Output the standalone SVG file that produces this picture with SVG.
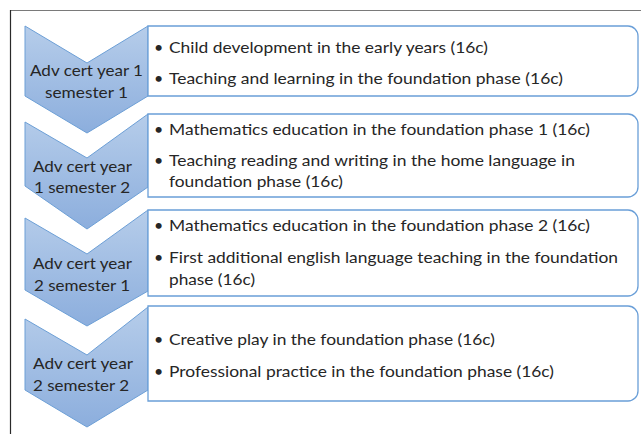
<svg xmlns="http://www.w3.org/2000/svg" width="641" height="434" viewBox="0 0 641 434">
  <defs>
    <linearGradient id="chevFill" x1="0" y1="0" x2="0" y2="1">
      <stop offset="0" stop-color="#b6cdea"/>
      <stop offset="1" stop-color="#8caedd"/>
    </linearGradient>
    <style>
      .chev { fill: url(#chevFill); stroke: #6c9fd6; stroke-width: 1; stroke-linejoin: miter; }
      .box { fill: #ffffff; stroke: #6a9fd8; stroke-width: 1.3; }
      .lbl { font-family: Lato, "Liberation Sans", sans-serif; font-size: 16px; fill: #262626; }
      .item { font-family: Lato, "Liberation Sans", sans-serif; font-size: 16px; fill: #262626; }
      .frame { stroke-width: 1.2; fill: none; }
    </style>
  </defs>

  <rect width="641" height="434" fill="#ffffff"/>

  <!-- outer frame: only the top and left edges fall inside the canvas -->
  <line class="frame" x1="10" y1="10.5" x2="641" y2="10.5" stroke="#7a7a7a"/>
  <line class="frame" x1="10.5" y1="10" x2="10.5" y2="434" stroke="#2a2a2a"/>

  <!-- links between stages are implied by the chevron shapes -->
  <g id="connectors"/>

  <!-- stage 1 -->
  <g id="stage1">
    <path class="chev" d="M25,26 L87,63 L148,26 L148,96 L87,133 L25,96 Z"/>
    <text class="lbl" x="30" y="76" textLength="113" lengthAdjust="spacingAndGlyphs">Adv cert year 1</text>
    <text class="lbl" x="45" y="98" textLength="83" lengthAdjust="spacingAndGlyphs">semester 1</text>
  </g>
  <g id="courses1">
    <path class="box" d="M148,26 H628 A10,10 0 0 1 638,36 V86 A10,10 0 0 1 628,96 H148 Z"/>
    <text class="item" x="154" y="53">•</text>
    <text class="item" x="169" y="53" textLength="319" lengthAdjust="spacingAndGlyphs">Child development in the early years (16c)</text>
    <text class="item" x="154" y="84">•</text>
    <text class="item" x="169" y="84" textLength="394" lengthAdjust="spacingAndGlyphs">Teaching and learning in the foundation phase (16c)</text>
  </g>

  <!-- stage 2 -->
  <g id="stage2">
    <path class="chev" d="M25,122 L87,158 L148,114 L148,187 L87,229 L25,186 Z"/>
    <text class="lbl" x="33" y="172" textLength="99" lengthAdjust="spacingAndGlyphs">Adv cert year</text>
    <text class="lbl" x="34" y="193" textLength="96" lengthAdjust="spacingAndGlyphs">1 semester 2</text>
  </g>
  <g id="courses2">
    <path class="box" d="M148,114 H628 A10,10 0 0 1 638,124 V187 A10,10 0 0 1 628,197 H148 Z"/>
    <text class="item" x="154" y="135">•</text>
    <text class="item" x="169" y="135" textLength="421" lengthAdjust="spacingAndGlyphs">Mathematics education in the foundation phase 1 (16c)</text>
    <text class="item" x="154" y="166">•</text>
    <text class="item" x="169" y="166" textLength="406" lengthAdjust="spacingAndGlyphs">Teaching reading and writing in the home language in</text>
    <text class="item" x="169" y="187" textLength="174" lengthAdjust="spacingAndGlyphs">foundation phase (16c)</text>
  </g>

  <!-- stage 3 -->
  <g id="stage3">
    <path class="chev" d="M25,218 L87,254 L148,210 L148,291 L87,326 L25,290 Z"/>
    <text class="lbl" x="33" y="269" textLength="99" lengthAdjust="spacingAndGlyphs">Adv cert year</text>
    <text class="lbl" x="34" y="291" textLength="96" lengthAdjust="spacingAndGlyphs">2 semester 1</text>
  </g>
  <g id="courses3">
    <path class="box" d="M148,210 H628 A10,10 0 0 1 638,220 V286 A10,10 0 0 1 628,296 H148 Z"/>
    <text class="item" x="154" y="231">•</text>
    <text class="item" x="169" y="231" textLength="421" lengthAdjust="spacingAndGlyphs">Mathematics education in the foundation phase 2 (16c)</text>
    <text class="item" x="154" y="263">•</text>
    <text class="item" x="169" y="263" textLength="449" lengthAdjust="spacingAndGlyphs">First additional english language teaching in the foundation</text>
    <text class="item" x="169" y="285" textLength="86" lengthAdjust="spacingAndGlyphs">phase (16c)</text>
  </g>

  <!-- stage 4 -->
  <g id="stage4">
    <path class="chev" d="M25,319 L87,355 L148,307 L148,390 L87,427 L25,390 Z"/>
    <text class="lbl" x="33" y="369" textLength="100" lengthAdjust="spacingAndGlyphs">Adv cert year</text>
    <text class="lbl" x="33" y="391" textLength="96" lengthAdjust="spacingAndGlyphs">2 semester 2</text>
  </g>
  <g id="courses4">
    <path class="box" d="M148,306 H628 A10,10 0 0 1 638,316 V391 A10,10 0 0 1 628,401 H148 Z"/>
    <text class="item" x="154" y="345">•</text>
    <text class="item" x="169" y="345" textLength="326" lengthAdjust="spacingAndGlyphs">Creative play in the foundation phase (16c)</text>
    <text class="item" x="154" y="377">•</text>
    <text class="item" x="169" y="377" textLength="385" lengthAdjust="spacingAndGlyphs">Professional practice in the foundation phase (16c)</text>
  </g>
</svg>
